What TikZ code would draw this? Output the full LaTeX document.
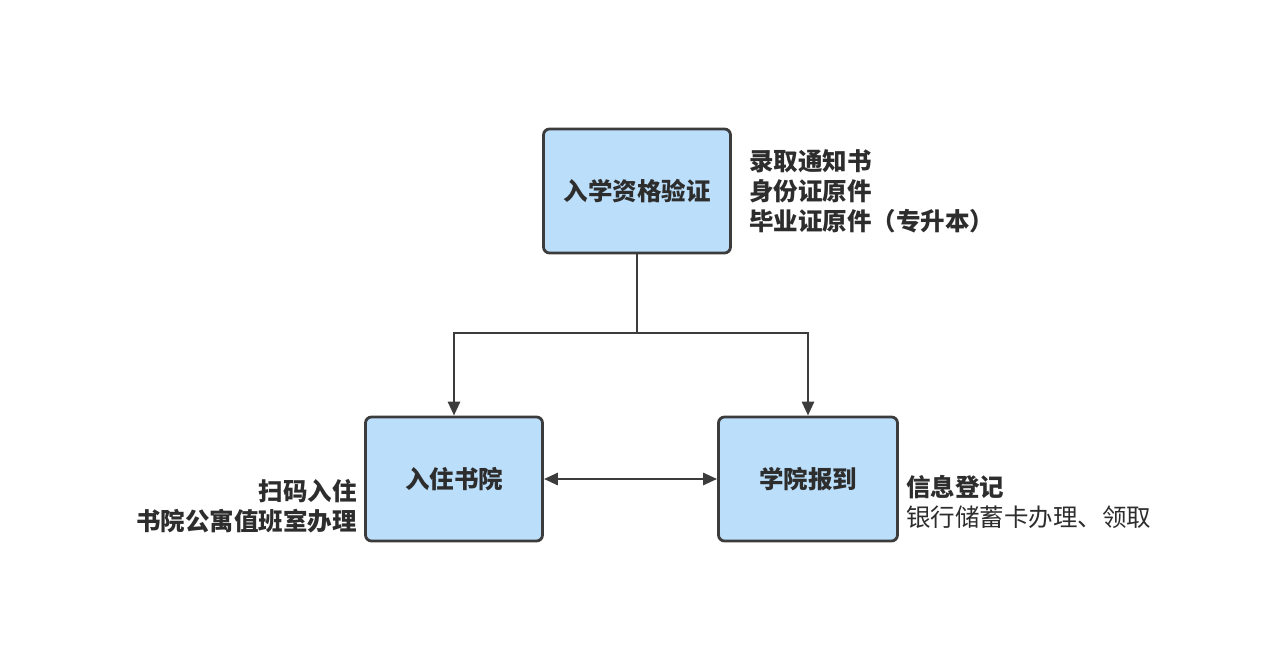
\documentclass[tikz,border=0pt]{standalone}
\usepackage{fontspec}
\setmainfont{Noto Sans CJK SC}
\usetikzlibrary{positioning}
\usetikzlibrary{arrows.meta}

\definecolor{boxfill}{RGB}{187,222,250}
\definecolor{edgegray}{RGB}{60,60,60}
\definecolor{textgray}{RGB}{45,45,45}

\begin{document}
\begin{tikzpicture}[x=1pt, y=-1pt,
    step box/.style = {draw=edgegray, fill=boxfill, line width=2.8pt, rounded corners=6pt,
        minimum width=#1, minimum height=124pt, inner sep=0pt, text=textgray,
        font=\fontsize{24.5}{29.5}\selectfont\bfseries},
    note/.style = {inner sep=0pt, text=textgray, font=\fontsize{24.5}{30}\selectfont},
    link/.style = {draw=edgegray, line width=2.8pt},
    tip/.style = {-{Triangle[length=14pt, width=12pt]}}]
    \useasboundingbox (0,0) rectangle (1264,655);

    \node[step box=187pt] (check) at (637,191) {入学资格验证};
    \node[step box=177pt] (college) at (454,479) {入住书院};
    \node[step box=179pt] (school) at (808,479) {学院报到};

    \node[note, anchor=west, align=left, right=17pt of check] (checknote)
        {\bfseries 录取通知书\\\bfseries 身份证原件\\\bfseries 毕业证原件（专升本）};
    \node[note, anchor=east, align=right, left=7pt of college.west, yshift=-27pt] (collegenote)
        {\bfseries 扫码入住\\\bfseries 书院公寓值班室办理};
    \node[note, anchor=west, align=left, right=7pt of school.east, yshift=-23pt] (schoolnote)
        {\bfseries 信息登记\\银行储蓄卡办理、领取};

    \coordinate (split) at (637,333);
    \draw[link] (check) -- (split);
    \draw[link, tip] (split) -| (college.north);
    \draw[link, tip] (split) -| (school.north);
    \draw[link, {Triangle[length=14pt, width=12pt]}-{Triangle[length=14pt, width=12pt]}] (college) -- (school);
\end{tikzpicture}
\end{document}
